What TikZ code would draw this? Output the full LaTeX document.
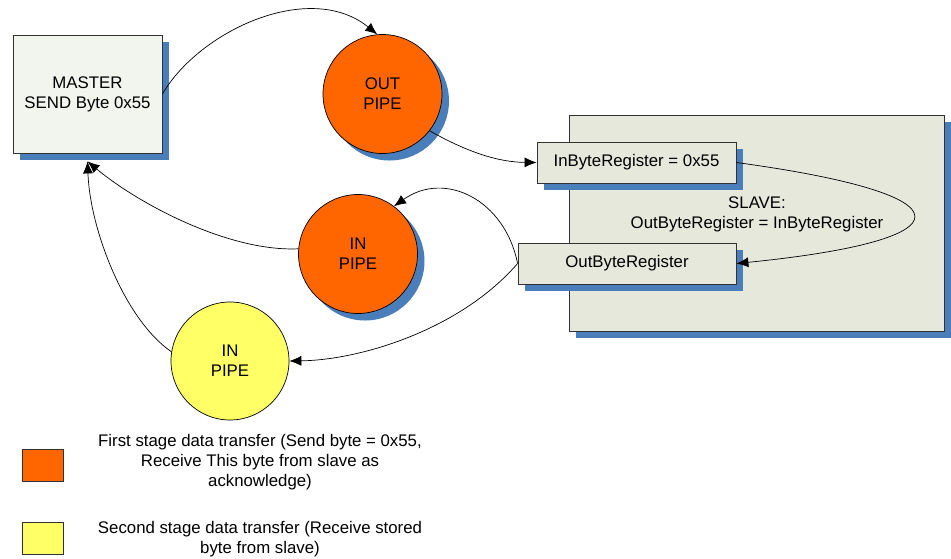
\documentclass[tikz,border=0pt]{standalone}
\usepackage{fontspec}
\setmainfont{Liberation Sans}
\usetikzlibrary{shadows,arrows.meta}
\definecolor{shblue}{RGB}{74,126,187}
\definecolor{pipeorange}{RGB}{255,102,0}
\definecolor{pipeyellow}{RGB}{255,255,102}
\definecolor{masterfill}{RGB}{242,244,238}
\definecolor{slavefill}{RGB}{230,232,220}
\definecolor{edgegrey}{RGB}{50,50,50}
\tikzset{
  lbl/.style={font=\fontsize{16.8}{20}\selectfont, align=center, inner sep=0pt},
  shad/.style={general shadow={fill=shblue, shadow xshift=7pt, shadow yshift=-7pt}},
  boxstyle/.style={lbl, draw=edgegrey, line width=0.8pt, shad},
  pipe/.style={lbl, circle, draw=black, line width=0.7pt, minimum size=119pt},
  conn/.style={line width=0.7pt, -{Latex[length=12pt,width=10pt]}},
  legbox/.style={draw=edgegrey, line width=0.8pt, minimum width=41pt, minimum height=32pt, inner sep=0pt}
}
\begin{document}
\begin{tikzpicture}[x=1pt,y=-1pt]
\useasboundingbox[fill=white] (0,0) rectangle (951,558);
% nodes
\node[boxstyle, fill=masterfill, minimum width=149pt, minimum height=118pt] (master) at (87.5,94) {MASTER\\SEND Byte 0x55};
\node[pipe, fill=pipeorange, shad] (outpipe) at (382.5,94) {OUT\\PIPE};
\node[boxstyle, fill=slavefill, minimum width=375pt, minimum height=216pt] (slave) at (756.5,223) {};
\node[lbl] (slavelbl) at (757,214) {SLAVE:\\OutByteRegister = InByteRegister};
\node[boxstyle, fill=slavefill, minimum width=199pt, minimum height=41pt] (inreg) at (636.5,162.5) {InByteRegister = 0x55};
\node[boxstyle, fill=slavefill, minimum width=218pt, minimum height=41pt] (outreg) at (627,263.5) {OutByteRegister};
\node[pipe, fill=pipeorange, shad] (inpipe) at (358,254) {IN\\PIPE};
\node[pipe, fill=pipeyellow, minimum size=118pt] (inpipey) at (230,361) {IN\\PIPE};
% legend
\node[legbox, fill=pipeorange] (leg1) at (42.5,465) {};
\node[legbox, fill=pipeyellow] (leg2) at (42.5,538.5) {};
\node[lbl] (leg1txt) at (260,462) {First stage data transfer (Send byte = 0x55,\\Receive This byte from slave as\\acknowledge)};
\node[lbl] (leg2txt) at (260,539) {Second stage data transfer (Receive stored\\byte from slave)};
% connectors
\draw[conn] (master.east) .. controls (200,30) and (310,-20) .. (outpipe.95);
\draw[conn] (outpipe.-38) .. controls (455,145) and (490,162) .. (inreg.west);
\draw[conn] (inreg.east) .. controls (975,195) and (970,240) .. (outreg.east);
\draw[conn] (outreg.west) .. controls (505,200) and (445,170) .. (inpipe.53);
\draw[conn] (outreg.west) .. controls (460,330) and (360,360) .. (inpipey.east);
\draw[conn] (inpipe.175) .. controls (230,252) and (140,205) .. ([yshift=-8pt]master.south);
\draw[conn] (inpipey.171) .. controls (125,320) and (90,230) .. ([yshift=-8pt]master.south);
\end{tikzpicture}
\end{document}
